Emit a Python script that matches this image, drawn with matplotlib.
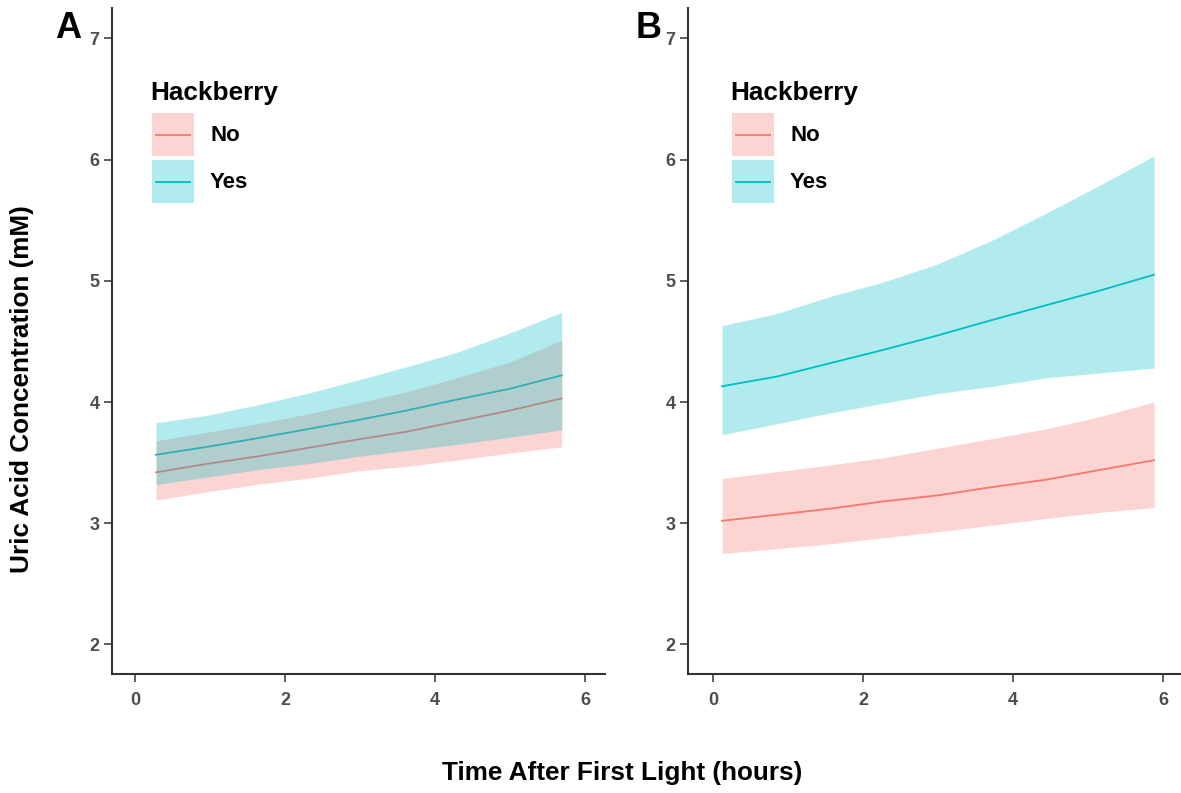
import matplotlib
matplotlib.use("Agg")
import matplotlib.pyplot as plt
from matplotlib.patches import Rectangle
from matplotlib.lines import Line2D

# ---------------- data ----------------
groups = ["No", "Yes"]
colors = {"No": "#F8766D", "Yes": "#00BFC4"}

# Panel A
time_a = [0.28, 0.96, 1.62, 2.29, 2.96, 3.62, 4.29, 5.00, 5.69]
a_no_fit = [3.42, 3.49, 3.55, 3.62, 3.69, 3.755, 3.84, 3.93, 4.03]
a_no_lo = [3.19, 3.26, 3.32, 3.37, 3.43, 3.47, 3.52, 3.58, 3.63]
a_no_hi = [3.68, 3.75, 3.82, 3.90, 3.99, 4.085, 4.20, 4.33, 4.51]
a_yes_fit = [3.565, 3.63, 3.70, 3.775, 3.85, 3.93, 4.02, 4.11, 4.22]
a_yes_lo = [3.32, 3.38, 3.44, 3.49, 3.55, 3.60, 3.65, 3.71, 3.77]
a_yes_hi = [3.83, 3.89, 3.975, 4.07, 4.18, 4.29, 4.41, 4.57, 4.74]

# Panel B
time_b = [0.12, 0.85, 1.56, 2.27, 3.00, 3.74, 4.45, 5.16, 5.88]
b_no_fit = [3.02, 3.07, 3.12, 3.18, 3.23, 3.30, 3.36, 3.44, 3.52]
b_no_lo = [2.75, 2.79, 2.83, 2.88, 2.93, 2.985, 3.04, 3.09, 3.13]
b_no_hi = [3.37, 3.425, 3.48, 3.54, 3.62, 3.70, 3.78, 3.88, 4.00]
b_yes_fit = [4.13, 4.21, 4.32, 4.43, 4.55, 4.68, 4.80, 4.92, 5.05]
b_yes_lo = [3.73, 3.82, 3.91, 3.99, 4.07, 4.13, 4.20, 4.24, 4.28]
b_yes_hi = [4.63, 4.73, 4.87, 4.99, 5.14, 5.34, 5.56, 5.79, 6.03]

x_ticks = [0, 2, 4, 6]
y_ticks = [2, 3, 4, 5, 6, 7]
panel_labels = ["A", "B"]
legend_title = "Hackberry"
xlabel = "Time After First Light (hours)"
ylabel = "Uric Acid Concentration (mM)"

# ---------------- figure ----------------
W, H = 1181, 793
plt.rcParams['font.family'] = ['Liberation Sans', 'DejaVu Sans']
fig = plt.figure(figsize=(W / 100, H / 100), dpi=100)


def fx(px):
    return px / W


def fy(py):
    return 1 - py / H


axes_px = [(112, 605, -0.307, 6.267), (688, 1180, -0.333, 6.227)]
panels = [
    (time_a, {"No": (a_no_fit, a_no_lo, a_no_hi), "Yes": (a_yes_fit, a_yes_lo, a_yes_hi)}),
    (time_b, {"No": (b_no_fit, b_no_lo, b_no_hi), "Yes": (b_yes_fit, b_yes_lo, b_yes_hi)}),
]
top_px, bot_px = 8, 674

for i, ((l, r, x0, x1), (t, series)) in enumerate(zip(axes_px, panels)):
    ax = fig.add_axes([fx(l), fy(bot_px), (r - l) / W, (bot_px - top_px) / H])
    for g in groups:
        fit, lo, hi = series[g]
        ax.plot(t, fit, color=colors[g], lw=1.3, zorder=1)
    for z, g in enumerate(groups):
        fit, lo, hi = series[g]
        ax.fill_between(t, lo, hi, color=colors[g], alpha=0.3, lw=0, zorder=2 + z)
    ax.set_xlim(x0, x1)
    ax.set_ylim(1.756, 7.251)
    ax.set_xticks(x_ticks)
    ax.set_yticks(y_ticks)
    for s in ["top", "right"]:
        ax.spines[s].set_visible(False)
    for s in ["left", "bottom"]:
        ax.spines[s].set_color("#333333")
        ax.spines[s].set_linewidth(1.5)
    ax.tick_params(axis="both", direction="out", length=6, width=1.1, color="#333333",
                   labelcolor="#4D4D4D", labelsize=13)
    ax.tick_params(axis="y", pad=3)
    ax.tick_params(axis="x", pad=7)
    for lab in ax.get_xticklabels() + ax.get_yticklabels():
        lab.set_fontweight("bold")
    ax.set_facecolor("white")

    # panel label
    off = 0 if i == 0 else 581
    fig.text(fx(55 + off), fy(38), panel_labels[i], fontsize=26, fontweight="bold",
             ha="left", va="baseline", color="black")

    # legend (manual)
    lx = 150 + (0 if i == 0 else 580)
    fig.text(fx(lx), fy(100), legend_title, fontsize=18.8, fontweight="bold",
             ha="left", va="baseline", color="black")
    for k, g in enumerate(groups):
        by0 = 113 + k * 47
        bx0 = lx + 2
        fig.patches.append(Rectangle((fx(bx0), fy(by0 + 43)), 42 / W, 43 / H,
                                     transform=fig.transFigure, facecolor=colors[g],
                                     alpha=0.3, lw=0))
        cy = by0 + 21.5
        fig.lines.append(Line2D([fx(bx0 + 4), fx(bx0 + 38)], [fy(cy), fy(cy)],
                                transform=fig.transFigure, color=colors[g], lw=1.3))
        fig.text(fx(lx + 60), fy(cy + 1), g, fontsize=16, fontweight="bold",
                 ha="left", va="center", color="black")

fig.text(fx(622), fy(773), xlabel, fontsize=18.8, fontweight="bold", ha="center", va="center")
fig.text(fx(22), fy(389), ylabel, fontsize=18.8, fontweight="bold", ha="center", va="center",
         rotation=90)

fig.savefig("out.png", dpi=100, facecolor="white")
